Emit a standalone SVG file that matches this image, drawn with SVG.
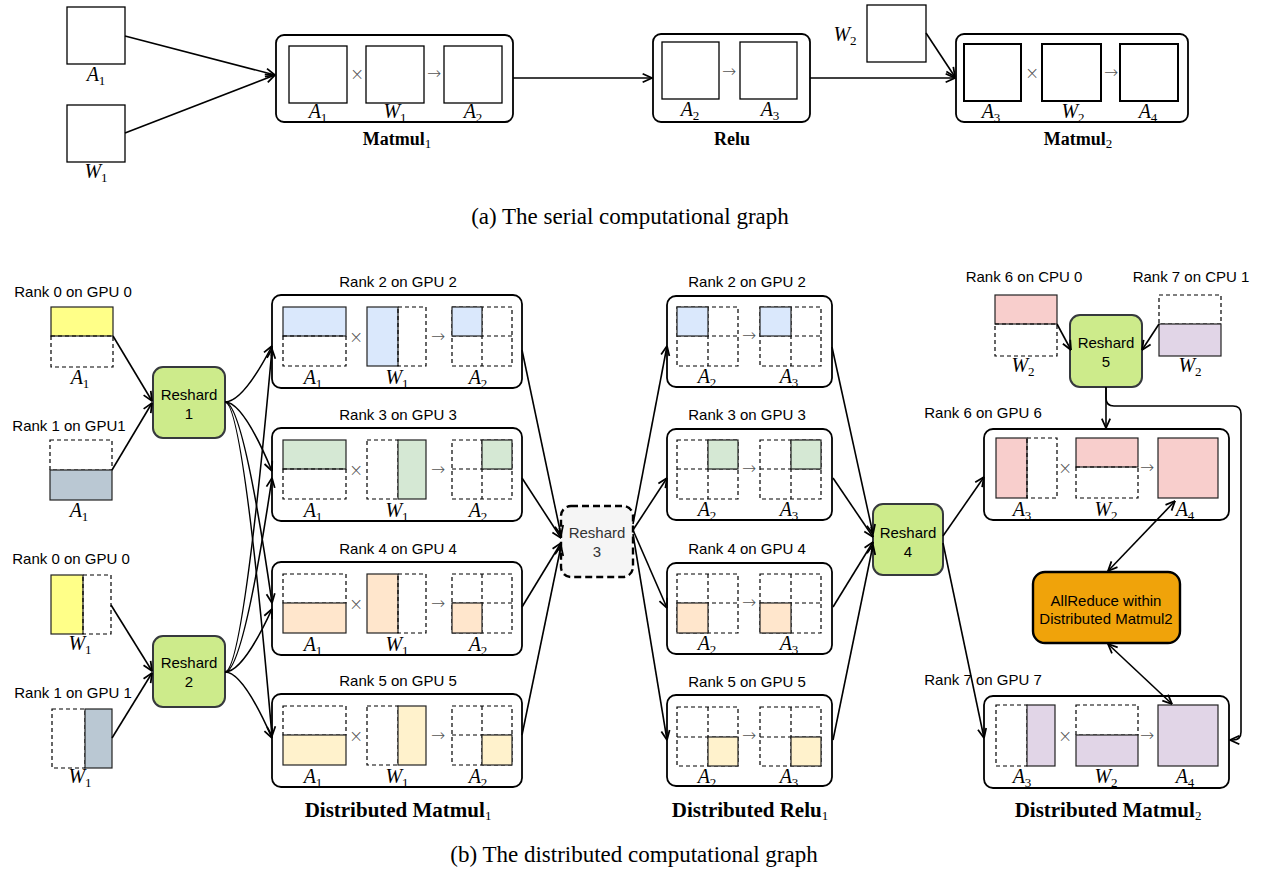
<svg xmlns="http://www.w3.org/2000/svg" width="1276" height="871" viewBox="0 0 1276 871">
<defs>
<style>
.w{fill:#fff;stroke:#000;stroke-width:1.3}
.w2{fill:#fff;stroke:#000;stroke-width:2}
.c{fill:#fff;stroke:#000;stroke-width:1.8}
.d{fill:none;stroke:#000;stroke-width:1.2;stroke-dasharray:4 3}
.f{stroke:#222;stroke-width:1.2}
.e{fill:none;stroke:#000;stroke-width:1.6}
.t{font-family:"Liberation Sans",Arial,sans-serif;font-size:15px;text-anchor:middle;fill:#000}
.m{font-family:"Liberation Serif","Times New Roman",serif;font-size:20px;font-style:italic;text-anchor:middle}
.sb{font-style:normal;font-size:13px}
.op{font-family:"DejaVu Sans",sans-serif;font-size:17px;font-weight:200;text-anchor:middle;fill:#555}
.b{font-family:"Liberation Serif","Times New Roman",serif;font-size:21px;font-weight:bold;text-anchor:middle}
.b18{font-family:"Liberation Serif","Times New Roman",serif;font-size:18px;font-weight:bold;text-anchor:middle}
.bs{font-size:13px;font-weight:normal}
.cap{font-family:"Liberation Serif","Times New Roman",serif;font-size:23px;text-anchor:middle}
.rs{fill:#cdeb8b;stroke:#36393d;stroke-width:2}
.blue{fill:#dae8fc}.green{fill:#d5e8d4}.peach{fill:#ffe6cc}.cream{fill:#fff2cc}
.pink{fill:#f8cecc}.purple{fill:#e1d5e7}.yellow{fill:#ffff88}.gray{fill:#bac8d3}
</style>
<marker id="ar" viewBox="0 0 10 10" refX="9.5" refY="5" markerWidth="11" markerHeight="11" markerUnits="userSpaceOnUse" orient="auto-start-reverse"><path d="M1,1.2 L9.5,5 L1,8.8" fill="none" stroke="#000" stroke-width="1.6"/></marker>
</defs>
<rect x="0" y="0" width="1276" height="871" fill="#fff"/>

<!-- (a) serial graph -->
<g id="serial-A1"><rect class="w" x="67" y="7" width="58" height="57"/><text class="m" x="96" y="81">A<tspan class="sb" dy="4">1</tspan></text></g>
<g id="serial-W1"><rect class="w" x="67" y="105" width="58" height="57"/><text class="m" x="96" y="178">W<tspan class="sb" dy="4">1</tspan></text></g>
<g id="serial-matmul1">
<rect class="c" x="276" y="35" width="237" height="87" rx="8"/>
<rect class="w" x="289" y="46" width="58" height="57"/>
<rect class="w" x="366" y="46" width="58" height="57"/>
<rect class="w" x="444" y="46" width="58" height="57"/>
<text class="op" x="357" y="80">×</text><text class="op" x="434" y="79">→</text>
<text class="m" x="318" y="118">A<tspan class="sb" dy="4">1</tspan></text>
<text class="m" x="395" y="118">W<tspan class="sb" dy="4">1</tspan></text>
<text class="m" x="473" y="118">A<tspan class="sb" dy="4">2</tspan></text>
<text class="b18" x="397" y="145">Matmul<tspan class="bs" dy="3">1</tspan></text>
</g>
<g id="serial-relu">
<rect class="c" x="653" y="34" width="157" height="88" rx="8"/>
<rect class="w" x="662" y="42" width="57" height="57"/>
<rect class="w" x="740" y="42" width="57" height="57"/>
<text class="op" x="729" y="77">→</text>
<text class="m" x="690" y="116">A<tspan class="sb" dy="4">2</tspan></text>
<text class="m" x="770" y="116">A<tspan class="sb" dy="4">3</tspan></text>
<text class="b18" x="732" y="145">Relu</text>
</g>
<g id="serial-W2"><rect class="w" x="867" y="5" width="59" height="57"/><text class="m" x="845" y="41">W<tspan class="sb" dy="4">2</tspan></text></g>
<g id="serial-matmul2">
<rect class="c" x="956" y="34" width="232" height="88" rx="8"/>
<rect class="w2" x="964" y="44" width="57" height="57"/>
<rect class="w2" x="1042" y="44" width="59" height="57"/>
<rect class="w2" x="1120" y="44" width="58" height="57"/>
<text class="op" x="1032" y="79">×</text><text class="op" x="1111" y="78">→</text>
<text class="m" x="991" y="118">A<tspan class="sb" dy="4">3</tspan></text>
<text class="m" x="1073" y="118">W<tspan class="sb" dy="4">2</tspan></text>
<text class="m" x="1148" y="118">A<tspan class="sb" dy="4">4</tspan></text>
<text class="b18" x="1078" y="145">Matmul<tspan class="bs" dy="3">2</tspan></text>
</g>
<text class="cap" x="630" y="224">(a) The serial computational graph</text>

<!-- (b) distributed graph: inputs -->
<g id="r0-A1">
<text class="t" x="73" y="297">Rank 0 on GPU 0</text>
<rect class="f yellow" x="51" y="307" width="62" height="29"/>
<rect class="d" x="51" y="336" width="62" height="31"/>
<text class="m" x="80" y="384">A<tspan class="sb" dy="4">1</tspan></text>
</g>
<g id="r1-A1">
<text class="t" x="69" y="431">Rank 1 on GPU1</text>
<rect class="d" x="50" y="440" width="62" height="30"/>
<rect class="f gray" x="50" y="470" width="62" height="30"/>
<text class="m" x="79" y="517">A<tspan class="sb" dy="4">1</tspan></text>
</g>
<g id="r0-W1">
<text class="t" x="71" y="564">Rank 0 on GPU 0</text>
<rect class="f yellow" x="51" y="575" width="32" height="59"/>
<rect class="d" x="83" y="575" width="28" height="59"/>
<text class="m" x="80" y="650">W<tspan class="sb" dy="4">1</tspan></text>
</g>
<g id="r1-W1">
<text class="t" x="73" y="698">Rank 1 on GPU 1</text>
<rect class="d" x="52" y="709" width="33" height="59"/>
<rect class="f gray" x="85" y="709" width="27" height="59"/>
<text class="m" x="80" y="783">W<tspan class="sb" dy="4">1</tspan></text>
</g>
<g id="reshard1"><rect class="rs" x="153" y="367" width="72" height="71" rx="10"/><text class="t" x="189" y="400">Reshard</text><text class="t" x="189" y="419">1</text></g>
<g id="reshard2"><rect class="rs" x="153" y="636" width="72" height="71" rx="10"/><text class="t" x="189" y="668">Reshard</text><text class="t" x="189" y="687">2</text></g>

<!-- Distributed Matmul1 -->
<g id="mm1-rank2">
<text class="t" x="398" y="287">Rank 2 on GPU 2</text>
<rect class="c" x="272" y="295" width="250" height="93" rx="9"/>
<rect class="f blue" x="283" y="307" width="63" height="29"/><rect class="d" x="283" y="336" width="63" height="30"/>
<rect class="f blue" x="367" y="307" width="31" height="59"/><rect class="d" x="398" y="307" width="28" height="59"/>
<rect class="d" x="452" y="307" width="60" height="59"/><path class="d" d="M482,307V366M452,336H512"/>
<rect class="f blue" x="452" y="307" width="30" height="29"/>
<text class="op" x="356" y="343">×</text><text class="op" x="438" y="342">→</text>
<text class="m" x="313" y="384">A<tspan class="sb" dy="4">1</tspan></text>
<text class="m" x="397" y="384">W<tspan class="sb" dy="4">1</tspan></text>
<text class="m" x="478" y="384">A<tspan class="sb" dy="4">2</tspan></text>
</g>
<g id="mm1-rank3">
<text class="t" x="398" y="420">Rank 3 on GPU 3</text>
<rect class="c" x="272" y="428" width="250" height="93" rx="9"/>
<rect class="f green" x="283" y="440" width="63" height="29"/><rect class="d" x="283" y="469" width="63" height="30"/>
<rect class="d" x="367" y="440" width="31" height="59"/><rect class="f green" x="398" y="440" width="28" height="59"/>
<rect class="d" x="452" y="440" width="60" height="59"/><path class="d" d="M482,440V499M452,469H512"/>
<rect class="f green" x="482" y="440" width="30" height="29"/>
<text class="op" x="356" y="476">×</text><text class="op" x="438" y="475">→</text>
<text class="m" x="313" y="517">A<tspan class="sb" dy="4">1</tspan></text>
<text class="m" x="397" y="517">W<tspan class="sb" dy="4">1</tspan></text>
<text class="m" x="478" y="517">A<tspan class="sb" dy="4">2</tspan></text>
</g>
<g id="mm1-rank4">
<text class="t" x="398" y="554">Rank 4 on GPU 4</text>
<rect class="c" x="272" y="562" width="250" height="93" rx="9"/>
<rect class="d" x="283" y="574" width="63" height="29"/><rect class="f peach" x="283" y="603" width="63" height="30"/>
<rect class="f peach" x="367" y="574" width="31" height="59"/><rect class="d" x="398" y="574" width="28" height="59"/>
<rect class="d" x="452" y="574" width="60" height="59"/><path class="d" d="M482,574V633M452,603H512"/>
<rect class="f peach" x="452" y="603" width="30" height="30"/>
<text class="op" x="356" y="610">×</text><text class="op" x="438" y="609">→</text>
<text class="m" x="313" y="651">A<tspan class="sb" dy="4">1</tspan></text>
<text class="m" x="397" y="651">W<tspan class="sb" dy="4">1</tspan></text>
<text class="m" x="478" y="651">A<tspan class="sb" dy="4">2</tspan></text>
</g>
<g id="mm1-rank5">
<text class="t" x="398" y="686">Rank 5 on GPU 5</text>
<rect class="c" x="272" y="694" width="250" height="93" rx="9"/>
<rect class="d" x="283" y="706" width="63" height="29"/><rect class="f cream" x="283" y="735" width="63" height="30"/>
<rect class="d" x="367" y="706" width="31" height="59"/><rect class="f cream" x="398" y="706" width="28" height="59"/>
<rect class="d" x="452" y="706" width="60" height="59"/><path class="d" d="M482,706V765M452,735H512"/>
<rect class="f cream" x="482" y="735" width="30" height="30"/>
<text class="op" x="356" y="742">×</text><text class="op" x="438" y="741">→</text>
<text class="m" x="313" y="783">A<tspan class="sb" dy="4">1</tspan></text>
<text class="m" x="397" y="783">W<tspan class="sb" dy="4">1</tspan></text>
<text class="m" x="478" y="783">A<tspan class="sb" dy="4">2</tspan></text>
</g>
<text class="b" x="398" y="817">Distributed Matmul<tspan class="bs" dy="3">1</tspan></text>

<g id="reshard3"><rect x="561" y="506" width="72" height="71" rx="10" fill="#f5f5f5" stroke="#000" stroke-width="2.4" stroke-dasharray="7 4"/><text class="t" x="597" y="538" style="fill:#333">Reshard</text><text class="t" x="597" y="557" style="fill:#333">3</text></g>

<!-- Distributed Relu1 -->
<g id="relu-rank2">
<text class="t" x="747" y="287">Rank 2 on GPU 2</text>
<rect class="c" x="667" y="296" width="165" height="91" rx="9"/>
<rect class="d" x="677" y="307" width="61" height="59"/><path class="d" d="M708,307V366M677,336H738"/>
<rect class="f blue" x="677" y="307" width="31" height="29"/>
<rect class="d" x="760" y="307" width="61" height="59"/><path class="d" d="M791,307V366M760,336H821"/>
<rect class="f blue" x="760" y="307" width="31" height="29"/>
<text class="op" x="749" y="341">→</text>
<text class="m" x="707" y="383">A<tspan class="sb" dy="4">2</tspan></text>
<text class="m" x="789" y="383">A<tspan class="sb" dy="4">3</tspan></text>
</g>
<g id="relu-rank3">
<text class="t" x="747" y="420">Rank 3 on GPU 3</text>
<rect class="c" x="667" y="429" width="165" height="91" rx="9"/>
<rect class="d" x="677" y="440" width="61" height="59"/><path class="d" d="M708,440V499M677,469H738"/>
<rect class="f green" x="708" y="440" width="30" height="29"/>
<rect class="d" x="760" y="440" width="61" height="59"/><path class="d" d="M791,440V499M760,469H821"/>
<rect class="f green" x="791" y="440" width="30" height="29"/>
<text class="op" x="749" y="474">→</text>
<text class="m" x="707" y="516">A<tspan class="sb" dy="4">2</tspan></text>
<text class="m" x="789" y="516">A<tspan class="sb" dy="4">3</tspan></text>
</g>
<g id="relu-rank4">
<text class="t" x="747" y="554">Rank 4 on GPU 4</text>
<rect class="c" x="667" y="563" width="165" height="91" rx="9"/>
<rect class="d" x="677" y="574" width="61" height="59"/><path class="d" d="M708,574V633M677,603H738"/>
<rect class="f peach" x="677" y="603" width="31" height="30"/>
<rect class="d" x="760" y="574" width="61" height="59"/><path class="d" d="M791,574V633M760,603H821"/>
<rect class="f peach" x="760" y="603" width="31" height="30"/>
<text class="op" x="749" y="608">→</text>
<text class="m" x="707" y="650">A<tspan class="sb" dy="4">2</tspan></text>
<text class="m" x="789" y="650">A<tspan class="sb" dy="4">3</tspan></text>
</g>
<g id="relu-rank5">
<text class="t" x="747" y="687">Rank 5 on GPU 5</text>
<rect class="c" x="667" y="695" width="165" height="91" rx="9"/>
<rect class="d" x="677" y="707" width="61" height="59"/><path class="d" d="M708,707V766M677,737H738"/>
<rect class="f cream" x="708" y="737" width="30" height="29"/>
<rect class="d" x="760" y="707" width="61" height="59"/><path class="d" d="M791,707V766M760,737H821"/>
<rect class="f cream" x="791" y="737" width="30" height="29"/>
<text class="op" x="749" y="741">→</text>
<text class="m" x="707" y="783">A<tspan class="sb" dy="4">2</tspan></text>
<text class="m" x="789" y="783">A<tspan class="sb" dy="4">3</tspan></text>
</g>
<text class="b" x="750" y="817">Distributed Relu<tspan class="bs" dy="3">1</tspan></text>

<g id="reshard4"><rect class="rs" x="873" y="504" width="70" height="71" rx="10"/><text class="t" x="908" y="538">Reshard</text><text class="t" x="908" y="557">4</text></g>

<!-- Distributed Matmul2 -->
<g id="r6-W2">
<text class="t" x="1024" y="282">Rank 6 on CPU 0</text>
<rect class="f pink" x="995" y="295" width="62" height="29"/>
<rect class="d" x="995" y="324" width="62" height="32"/>
<text class="m" x="1023" y="372">W<tspan class="sb" dy="4">2</tspan></text>
</g>
<g id="r7-W2">
<text class="t" x="1191" y="282">Rank 7 on CPU 1</text>
<rect class="d" x="1159" y="295" width="62" height="29"/>
<rect class="f purple" x="1159" y="324" width="62" height="32"/>
<text class="m" x="1190" y="372">W<tspan class="sb" dy="4">2</tspan></text>
</g>
<g id="reshard5"><rect class="rs" x="1070" y="315" width="72" height="72" rx="10"/><text class="t" x="1106" y="348">Reshard</text><text class="t" x="1106" y="367">5</text></g>

<g id="mm2-rank6">
<text class="t" x="983" y="418">Rank 6 on GPU 6</text>
<rect class="c" x="984" y="429" width="245" height="91" rx="9"/>
<rect class="f pink" x="996" y="438" width="31" height="60"/><rect class="d" x="1027" y="438" width="30" height="60"/>
<rect class="f pink" x="1076" y="438" width="62" height="29"/><rect class="d" x="1076" y="467" width="62" height="31"/>
<rect class="f pink" x="1158" y="438" width="60" height="60"/>
<text class="op" x="1065" y="474">×</text><text class="op" x="1147" y="473">→</text>
<text class="m" x="1022" y="516">A<tspan class="sb" dy="4">3</tspan></text>
<text class="m" x="1106" y="516">W<tspan class="sb" dy="4">2</tspan></text>
<text class="m" x="1185" y="516">A<tspan class="sb" dy="4">4</tspan></text>
</g>
<g id="allreduce"><rect x="1033" y="572" width="147" height="71" rx="12" fill="#f0a30a" stroke="#000" stroke-width="2.4"/><text class="t" x="1106" y="606">AllReduce within</text><text class="t" x="1106" y="624">Distributed Matmul2</text></g>
<g id="mm2-rank7">
<text class="t" x="983" y="685">Rank 7 on GPU 7</text>
<rect class="c" x="984" y="696" width="245" height="92" rx="9"/>
<rect class="d" x="996" y="705" width="31" height="61"/><rect class="f purple" x="1027" y="705" width="28" height="61"/>
<rect class="d" x="1076" y="705" width="62" height="30"/><rect class="f purple" x="1076" y="735" width="62" height="31"/>
<rect class="f purple" x="1158" y="705" width="60" height="61"/>
<text class="op" x="1065" y="742">×</text><text class="op" x="1147" y="741">→</text>
<text class="m" x="1022" y="783">A<tspan class="sb" dy="4">3</tspan></text>
<text class="m" x="1106" y="783">W<tspan class="sb" dy="4">2</tspan></text>
<text class="m" x="1185" y="783">A<tspan class="sb" dy="4">4</tspan></text>
</g>
<text class="b" x="1108" y="817">Distributed Matmul<tspan class="bs" dy="3">2</tspan></text>

<text class="cap" x="634" y="862">(b) The distributed computational graph</text>

<!-- connectors -->
<g id="connectors" class="e" marker-end="url(#ar)">
<path d="M125,36L275,75"/>
<path d="M125,133L275,75"/>
<path d="M513,78L652,78"/>
<path d="M810,78L955,78"/>
<path d="M926,33L955,77"/>
<path d="M113,336L152,401"/>
<path d="M112,470L152,403"/>
<path d="M111,605L152,671"/>
<path d="M112,738L152,673"/>
<path d="M225,402Q243,402 272,346"/>
<path d="M225,402Q243,402 272,471"/>
<path d="M225,402Q243,402 272,603"/>
<path d="M225,402Q243,402 272,736"/>
<path d="M225,672Q243,672 272,349"/>
<path d="M225,672Q243,672 272,478"/>
<path d="M225,672Q243,672 272,609"/>
<path d="M225,672Q243,672 272,738"/>
<path d="M522,350L561,535"/>
<path d="M522,478L561,538"/>
<path d="M522,607L561,543"/>
<path d="M522,735L561,546"/>
<path d="M633,524L667,346"/>
<path d="M633,530L667,478"/>
<path d="M633,530L667,608"/>
<path d="M633,534L667,740"/>
<path d="M832,347L873,534"/>
<path d="M833,478L873,537"/>
<path d="M833,607L873,542"/>
<path d="M833,740L873,545"/>
<path d="M943,536L984,477"/>
<path d="M943,543L984,738"/>
<path d="M1057,324L1071,350"/>
<path d="M1159,324L1142,350"/>
<path d="M1106,387L1106,428"/>
<path d="M1106,387L1106,398Q1106,406 1114,406L1233,406Q1241,406 1241,414L1241,732Q1241,740 1233,740L1230,740"/>
<path d="M1175,501L1108,571" marker-start="url(#ar)"/>
<path d="M1108,644L1172,704" marker-start="url(#ar)"/>
</g>
</svg>
